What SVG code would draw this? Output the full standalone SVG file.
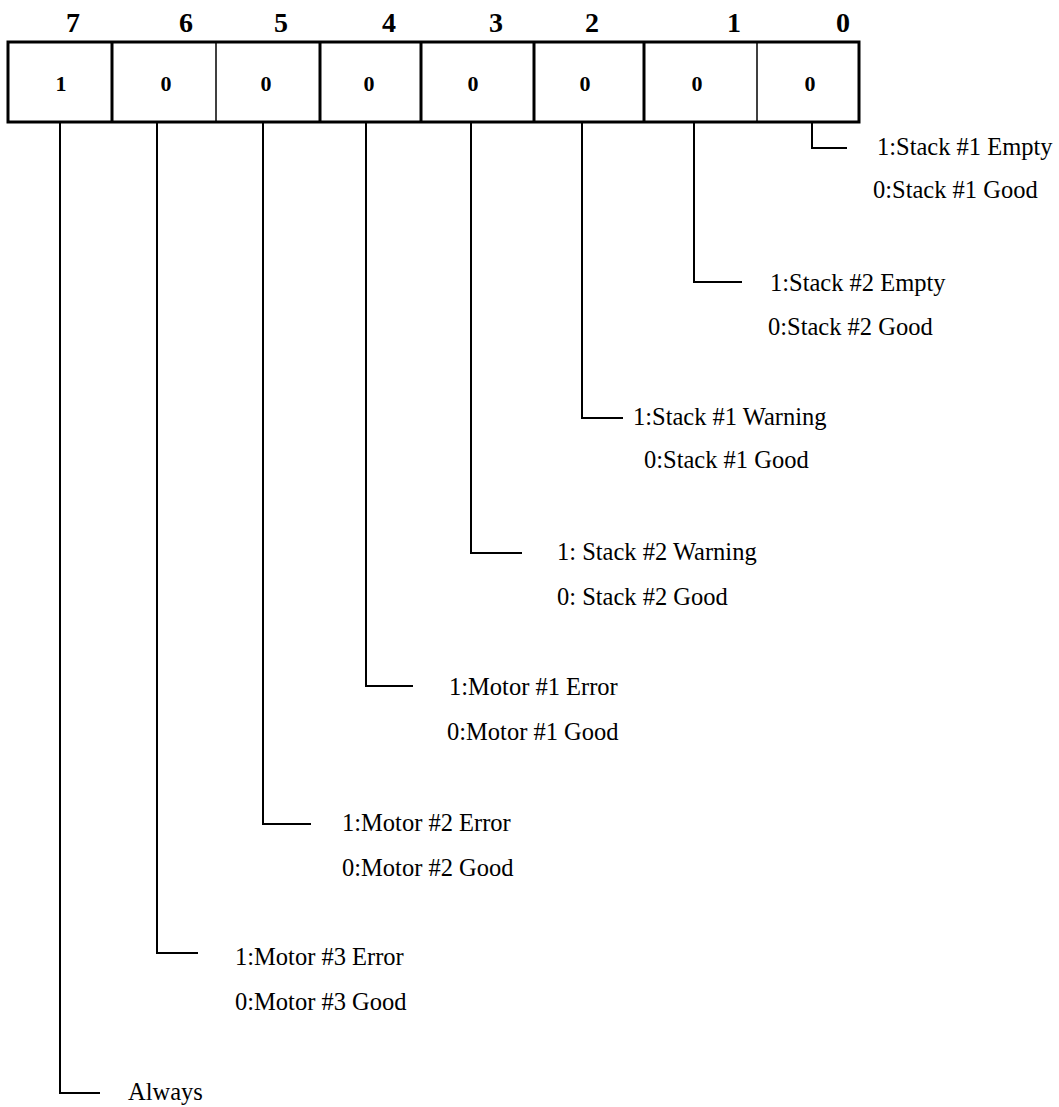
<svg xmlns="http://www.w3.org/2000/svg" width="1059" height="1107" viewBox="0 0 1059 1107">
<style>
  text { font-family: 'Liberation Serif', 'Times New Roman', Times, 'DejaVu Serif', serif; fill: #000; }
  .hdr { font-weight: bold; font-size: 28px; text-anchor: middle; }
  .val { font-weight: bold; font-size: 22px; text-anchor: middle; }
  .lbl { font-size: 24.5px; }
  .thick { stroke: #000; stroke-width: 3; fill: none; }
  .thin { stroke: #000; stroke-width: 1.5; fill: none; }
  .conn { stroke: #000; stroke-width: 2; fill: none; }
</style>
<rect width="1059" height="1107" fill="#fff"/>
<g id="headers">
  <text class="hdr" x="73" y="32">7</text>
  <text class="hdr" x="186" y="32">6</text>
  <text class="hdr" x="281" y="32">5</text>
  <text class="hdr" x="389" y="32">4</text>
  <text class="hdr" x="496" y="32">3</text>
  <text class="hdr" x="592" y="32">2</text>
  <text class="hdr" x="734" y="32">1</text>
  <text class="hdr" x="843" y="32">0</text>
</g>
<g id="register">
  <rect class="thick" x="8" y="42" width="851" height="80"/>
  <line class="thick" x1="112" y1="42" x2="112" y2="122"/>
  <line class="thin" x1="216" y1="42" x2="216" y2="122"/>
  <line class="thick" x1="320" y1="42" x2="320" y2="122"/>
  <line class="thick" x1="421" y1="42" x2="421" y2="122"/>
  <line class="thick" x1="534" y1="42" x2="534" y2="122"/>
  <line class="thick" x1="644" y1="42" x2="644" y2="122"/>
  <line class="thin" x1="757" y1="42" x2="757" y2="122"/>
  <text class="val" x="61" y="91">1</text>
  <text class="val" x="166" y="91">0</text>
  <text class="val" x="266" y="91">0</text>
  <text class="val" x="369" y="91">0</text>
  <text class="val" x="473" y="91">0</text>
  <text class="val" x="585" y="91">0</text>
  <text class="val" x="697" y="91">0</text>
  <text class="val" x="810" y="91">0</text>
</g>
<g id="connectors">
  <polyline class="conn" points="812,122 812,148 847,148"/>
  <polyline class="conn" points="694,122 694,282 742,282"/>
  <polyline class="conn" points="582,122 582,418 623,418"/>
  <polyline class="conn" points="471,122 471,553 522,553"/>
  <polyline class="conn" points="366,122 366,686 413,686"/>
  <polyline class="conn" points="263,122 263,824 311,824"/>
  <polyline class="conn" points="157,122 157,953 198,953"/>
  <polyline class="conn" points="60,122 60,1093 100,1093"/>
</g>
<g id="bit0">
  <text class="lbl" x="877" y="155">1:Stack #1 Empty</text>
  <text class="lbl" x="873" y="198">0:Stack #1 Good</text>
</g>
<g id="bit1">
  <text class="lbl" x="770" y="291">1:Stack #2 Empty</text>
  <text class="lbl" x="768" y="335">0:Stack #2 Good</text>
</g>
<g id="bit2">
  <text class="lbl" x="633" y="425">1:Stack #1 Warning</text>
  <text class="lbl" x="644" y="468">0:Stack #1 Good</text>
</g>
<g id="bit3">
  <text class="lbl" x="557" y="560">1: Stack #2 Warning</text>
  <text class="lbl" x="557" y="605">0: Stack #2 Good</text>
</g>
<g id="bit4">
  <text class="lbl" x="449" y="695">1:Motor #1 Error</text>
  <text class="lbl" x="447" y="740">0:Motor #1 Good</text>
</g>
<g id="bit5">
  <text class="lbl" x="342" y="831">1:Motor #2 Error</text>
  <text class="lbl" x="342" y="876">0:Motor #2 Good</text>
</g>
<g id="bit6">
  <text class="lbl" x="235" y="965">1:Motor #3 Error</text>
  <text class="lbl" x="235" y="1010">0:Motor #3 Good</text>
</g>
<g id="bit7">
  <text class="lbl" x="128" y="1100">Always</text>
</g>
</svg>
